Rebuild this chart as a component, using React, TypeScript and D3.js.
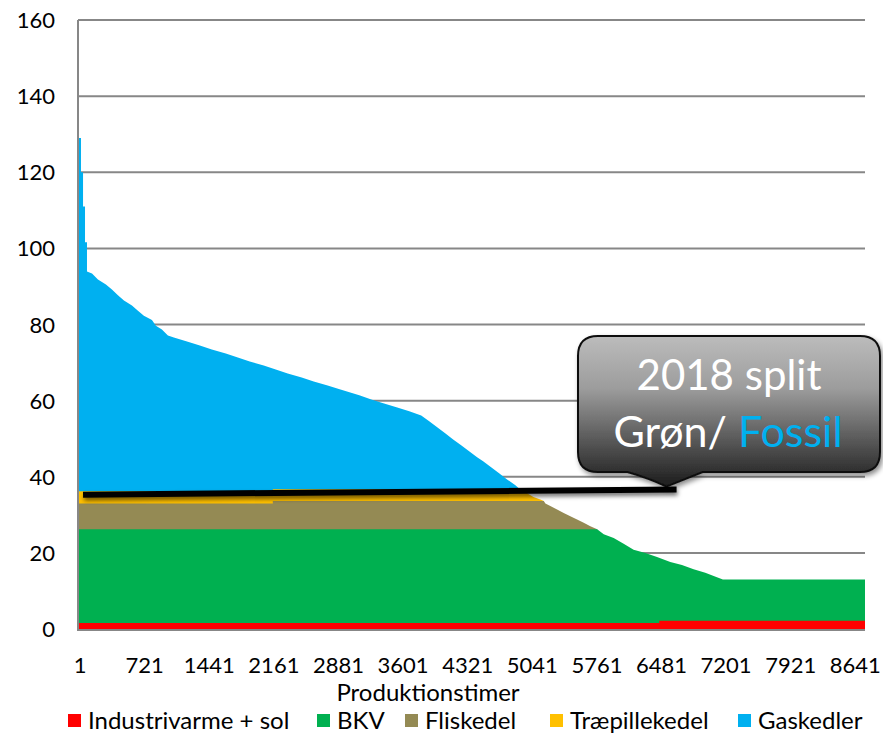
import React from "react";
import * as d3 from "d3";

// ---- Data (each array gives the top edge of a stacked layer) ----
const yTicks = [0, 20, 40, 60, 80, 100, 120, 140, 160];
const xTickHours = [1, 721, 1441, 2161, 2881, 3601, 4321, 5041, 5761, 6481, 7201, 7921, 8641];

const gasHours = [0, 22, 22, 45, 45, 67, 67, 89, 89, 145, 211, 300, 367, 434, 501, 590, 657, 723, 813, 857, 924, 991, 1057, 1213, 1347, 1480, 1636, 1770, 1903, 2059, 2193, 2326, 2482, 2616, 2771, 2905, 3124, 3258, 3391, 3547, 3681, 3814, 3903, 3992, 4081, 4170, 4259, 4348, 4437, 4504, 4593, 4682, 4771, 4860, 4905, 4925];
const gasTop = [129, 129, 120, 120, 111, 111, 101.6, 101.6, 93.9, 93.4, 91.8, 90.5, 89.2, 87.7, 86.3, 85.0, 83.6, 82.3, 81.2, 79.7, 78.7, 77.1, 76.6, 75.5, 74.5, 73.4, 72.4, 71.3, 70.3, 69.2, 68.2, 67.1, 66.1, 65.0, 64.0, 63.0, 61.4, 60.3, 59.3, 58.2, 57.2, 56.1, 54.6, 53.0, 51.4, 49.8, 48.3, 46.7, 45.1, 44.1, 42.5, 40.9, 39.3, 37.8, 36.9, 36.7];

const pilleHours = [0, 2160, 2160, 4925, 5013, 5065, 5142, 5180];
const pilleTop = [36.2, 36.2, 36.7, 36.7, 35.4, 34.7, 34.0, 33.6];

const flisHours = [0, 2160, 2160, 5180, 5198, 5253, 5328, 5402, 5476, 5551, 5625, 5699, 5775];
const flisTop = [33.0, 33.0, 33.6, 33.6, 33.0, 32.3, 31.4, 30.5, 29.6, 28.8, 27.9, 27.0, 26.2];

const bkvHours = [0, 5775, 5848, 5959, 6070, 6181, 6312, 6442, 6590, 6720, 6850, 6980, 7110, 7176, 8760];
const bkvTop = [26.2, 26.2, 24.9, 23.9, 22.4, 20.8, 20.0, 18.9, 17.6, 16.8, 15.7, 14.8, 13.6, 13.0, 13.0];

const industriHours = [0, 6467, 6467, 8760];
const industriTop = [1.6, 1.6, 2.2, 2.2];

const splitHours = [45, 6660];
const splitValues = [35.3, 36.65];

const legendNames = ["Industrivarme + sol", "BKV", "Fliskedel", "Træpillekedel", "Gaskedler"];
const legendColors = ["#FF0000", "#00B050", "#948A54", "#FFC000", "#00B0F0"];
const legendX = [68, 317, 405, 550, 738];

const FONT = "Lato, 'Open Sans', sans-serif";

export default function App() {
  const W = 883;
  const H = 734;
  const x = d3.scaleLinear().domain([0, 8760]).range([79, 865]);
  const y = d3.scaleLinear().domain([0, 160]).range([629, 20]);

  const area = d3
    .area<[number, number]>()
    .x((d) => x(d[0]))
    .y0(y(0))
    .y1((d) => y(d[1]));

  const layers: { hours: number[]; top: number[]; color: string }[] = [
    { hours: gasHours, top: gasTop, color: legendColors[4] },
    { hours: pilleHours, top: pilleTop, color: legendColors[3] },
    { hours: flisHours, top: flisTop, color: legendColors[2] },
    { hours: bkvHours, top: bkvTop, color: legendColors[1] },
    { hours: industriHours, top: industriTop, color: legendColors[0] },
  ];

  const line = d3
    .line<[number, number]>()
    .x((d) => x(d[0]))
    .y((d) => y(d[1]));
  const splitPts: [number, number][] = splitHours.map((h, i) => [h, splitValues[i]]);

  // callout geometry
  const bx0 = 578, bx1 = 880, by0 = 336, by1 = 472, r = 20;
  const tipX = x(splitHours[1]) - 10;
  const tipY = y(splitValues[1]) - 3;
  const calloutPath = `M ${bx0 + r} ${by0} H ${bx1 - r} Q ${bx1} ${by0} ${bx1} ${by0 + r} V ${by1 - r} Q ${bx1} ${by1} ${bx1 - r} ${by1} H ${tipX + 36} L ${tipX} ${tipY} Q ${tipX - 18} ${by1 + 6} ${tipX - 39} ${by1} H ${bx0 + r} Q ${bx0} ${by1} ${bx0} ${by1 - r} V ${by0 + r} Q ${bx0} ${by0} ${bx0 + r} ${by0} Z`;

  return (
    <svg
      width={W}
      height={H}
      style={{ position: "absolute", left: 0, top: 0, background: "#fff" }}
      fontFamily={FONT}
    >
      <defs>
        <linearGradient id="calloutGrad" x1="0" y1="0" x2="0" y2="1">
          <stop offset="0" stopColor="#bcbcbc" />
          <stop offset="0.35" stopColor="#9c9c9c" />
          <stop offset="0.7" stopColor="#575757" />
          <stop offset="1" stopColor="#1c1c1c" />
        </linearGradient>
        <filter id="shadow" x="-10%" y="-10%" width="130%" height="150%">
          <feDropShadow dx="2" dy="3" stdDeviation="2.5" floodColor="#000" floodOpacity="0.45" />
        </filter>
        <filter id="lineShadow" x="-5%" y="-200%" width="110%" height="500%">
          <feDropShadow dx="1" dy="3" stdDeviation="2" floodColor="#000" floodOpacity="0.55" />
        </filter>
      </defs>

      {/* gridlines */}
      {yTicks.slice(1).map((t) => (
        <line key={t} x1={78} x2={865} y1={y(t)} y2={y(t)} stroke="#878787" strokeWidth={2} />
      ))}

      {/* stacked layers, painted back to front */}
      {layers.map((l, i) => (
        <path
          key={i}
          d={area(l.hours.map((h, j) => [h, l.top[j]] as [number, number])) || ""}
          fill={l.color}
        />
      ))}

      {/* axes */}
      <line x1={78} x2={78} y1={y(160)} y2={630} stroke="#878787" strokeWidth={2} />
      <line x1={77} x2={865} y1={630} y2={630} stroke="#878787" strokeWidth={2} />

      {/* y tick labels */}
      {yTicks.map((t) => (
        <text key={t} x={55} y={y(t) + 8} textAnchor="end" fontSize={22} fill="#000">
          {t}
        </text>
      ))}

      {/* x tick labels */}
      {xTickHours.map((h) => (
        <text key={h} x={x(h) + 1} y={673} textAnchor="middle" fontSize={22} fill="#000">
          {h}
        </text>
      ))}
      <text x={428} y={701} textAnchor="middle" fontSize={24} fill="#000">
        Produktionstimer
      </text>

      {/* legend */}
      {legendNames.map((n, i) => (
        <g key={n}>
          <rect x={legendX[i]} y={714} width={13} height={13} fill={legendColors[i]} />
          <text x={legendX[i] + 20} y={729} fontSize={24} fill="#000">
            {n}
          </text>
        </g>
      ))}

      {/* callout */}
      <path d={calloutPath} fill="url(#calloutGrad)" stroke="#111" strokeWidth={2} filter="url(#shadow)" />
      <text x={729} y={390} textAnchor="middle" fontSize={42} fill="#fff">
        2018 split
      </text>
      <text x={728} y={447} textAnchor="middle" fontSize={43} fill="#fff">
        Grøn/ <tspan fill="#00B0F0">Fossil</tspan>
      </text>

      {/* split line */}
      <path d={line(splitPts) || ""} stroke="#000" strokeWidth={6} fill="none" filter="url(#lineShadow)" />
    </svg>
  );
}
